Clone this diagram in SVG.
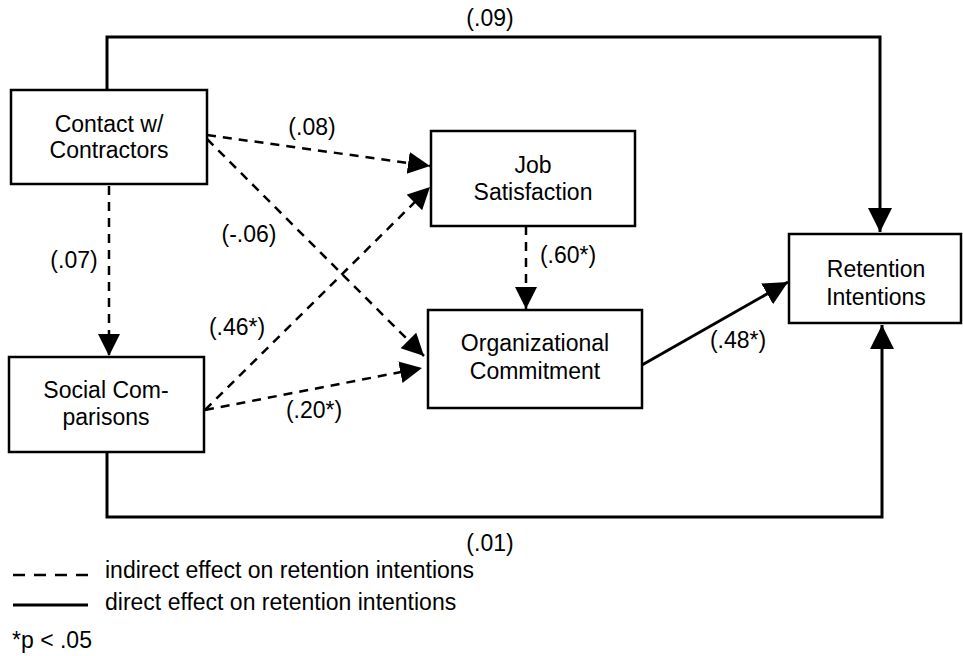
<svg xmlns="http://www.w3.org/2000/svg" width="963" height="656" viewBox="0 0 963 656">
<style>
text{font-family:"Liberation Sans",Arial,sans-serif;font-size:23px;fill:#000}
.node text{text-anchor:middle}
.box{fill:#fff;stroke:#000;stroke-width:2.5}
.solid{fill:none;stroke:#000;stroke-width:3}
.dash{fill:none;stroke:#000;stroke-width:2.5;stroke-dasharray:9 7}
.ldash{fill:none;stroke:#000;stroke-width:2.5;stroke-dasharray:12 9}
.lbl{text-anchor:middle}
</style>
<defs>
<marker id="ah" markerUnits="userSpaceOnUse" markerWidth="26" markerHeight="26" refX="24" refY="12" orient="auto" viewBox="0 0 26 26">
<path d="M0,0 L24,12 L0,24 z" fill="#000"/>
</marker>
<marker id="ahd" markerUnits="userSpaceOnUse" markerWidth="24" markerHeight="24" refX="22" refY="11" orient="auto" viewBox="0 0 24 24">
<path d="M0,0 L22,11 L0,22 z" fill="#000"/>
</marker>
</defs>
<g id="connectors">
<path class="solid" d="M107,90 V37 H880 V232" marker-end="url(#ah)"/>
<path class="solid" d="M107,452 V517 H882 V325" marker-end="url(#ah)"/>
<path class="solid" d="M642,365 L788,282" marker-end="url(#ah)"/>
<path class="dash" d="M109,186 V356" marker-end="url(#ahd)"/>
<path class="dash" d="M207,135 L430,166" marker-end="url(#ahd)"/>
<path class="dash" d="M207,139 L424,356" marker-end="url(#ahd)"/>
<path class="dash" d="M205,410 L430,187" marker-end="url(#ahd)"/>
<path class="dash" d="M205,410 L422,368" marker-end="url(#ahd)"/>
<path class="dash" d="M526,226 V309" marker-end="url(#ahd)"/>
<text class="lbl" x="490" y="26">(.09)</text>
<text class="lbl" x="312" y="135">(.08)</text>
<text class="lbl" x="249" y="242">(-.06)</text>
<text class="lbl" x="74" y="268">(.07)</text>
<text class="lbl" x="237" y="335">(.46*)</text>
<text class="lbl" x="314" y="418">(.20*)</text>
<text class="lbl" x="568" y="263">(.60*)</text>
<text class="lbl" x="738" y="348">(.48*)</text>
<text class="lbl" x="490" y="551">(.01)</text>
</g>
<g id="contact" class="node">
<rect class="box" x="11" y="90" width="196" height="94"/>
<text x="109" y="132">Contact w/</text>
<text x="109" y="158">Contractors</text>
</g>
<g id="social" class="node">
<rect class="box" x="9" y="357" width="195" height="95"/>
<text x="106" y="398">Social Com-</text>
<text x="106" y="425">parisons</text>
</g>
<g id="job" class="node">
<rect class="box" x="431" y="131" width="204" height="95"/>
<text x="533" y="173">Job</text>
<text x="533" y="200">Satisfaction</text>
</g>
<g id="org" class="node">
<rect class="box" x="428" y="310" width="214" height="98"/>
<text x="535" y="351">Organizational</text>
<text x="535" y="379">Commitment</text>
</g>
<g id="retention" class="node">
<rect class="box" x="789" y="234" width="172" height="89"/>
<text x="876" y="277">Retention</text>
<text x="876" y="305">Intentions</text>
</g>
<g id="legend">
<line class="ldash" x1="13" y1="575" x2="88" y2="575"/>
<text x="105" y="578">indirect effect on retention intentions</text>
<line class="solid" x1="13" y1="605" x2="88" y2="605"/>
<text x="105" y="610">direct effect on retention intentions</text>
<text x="12" y="648">*p &lt; .05</text>
</g>
</svg>
